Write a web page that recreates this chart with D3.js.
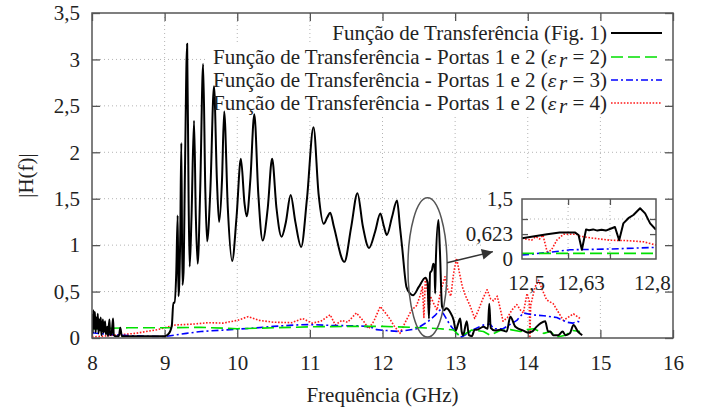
<!DOCTYPE html>
<html><head><meta charset="utf-8">
<script src="https://cdn.jsdelivr.net/npm/d3@7"></script>
<style>
html,body{margin:0;padding:0;background:#fff;}
svg{display:block;}
</style></head><body>
<svg id="c" width="706" height="412" font-family="Liberation Serif"></svg>
<script>
// ---------------- data ----------------
const xTicks=[8,9,10,11,12,13,14,15,16];
const yTicks=[0,0.5,1,1.5,2,2.5,3,3.5];
const legendLabels=["Função de Transferência (Fig. 1)","Função de Transferência - Portas 1 e 2 (","Função de Transferência - Portas 1 e 2 (","Função de Transferência - Portas 1 e 2 ("];
const legendEps=[null,2,3,4];
const seriesColors=["#000000","#00e000","#0000ff","#ff1a1a"];

const fig1=[[8.00,0.12],[8.005,0.25],[8.01,0.05],[8.02,0.30],[8.03,0.10],[8.04,0.28],[8.05,0.06],[8.06,0.22],[8.07,0.10],[8.08,0.26],[8.09,0.05],[8.10,0.20],[8.11,0.08],[8.12,0.22],[8.13,0.03],[8.15,0.20],[8.16,0.06],[8.18,0.18],[8.19,0.04],[8.21,0.12],[8.22,0.02],[8.24,0.20],[8.25,0.03],[8.27,0.05],[8.29,0.21],[8.30,0.03],[8.32,0.02],[8.37,0.02],[8.39,0.11],[8.41,0.02],[8.6,0.02],[8.9,0.02],[9.0,0.02],[9.05,0.04],[9.08,0.08],[9.10,0.14],[9.12,0.38],[9.14,0.38],[9.16,0.7],[9.18,1.32],[9.19,0.45],[9.20,0.55],[9.215,1.1],[9.23,2.10],[9.245,0.57],[9.26,0.7],[9.28,1.8],[9.31,3.17],[9.33,1.5],[9.345,0.77],[9.37,1.3],[9.405,2.34],[9.43,1.3],[9.455,0.80],[9.49,1.6],[9.53,2.95],[9.56,1.6],[9.585,1.04],[9.63,1.6],[9.68,2.71],[9.72,1.7],[9.75,1.25],[9.79,1.7],[9.82,2.44],[9.87,1.4],[9.93,0.83],[9.99,1.3],[10.05,1.93],[10.10,1.45],[10.13,1.31],[10.18,1.7],[10.235,2.41],[10.29,1.55],[10.35,1.05],[10.42,1.4],[10.48,1.93],[10.54,1.4],[10.61,1.09],[10.67,1.25],[10.735,1.54],[10.80,1.25],[10.88,0.98],[10.96,1.5],[11.05,2.27],[11.12,1.55],[11.19,1.23],[11.24,1.30],[11.28,1.35],[11.33,1.2],[11.475,0.82],[11.57,1.2],[11.655,1.56],[11.73,1.2],[11.815,0.97],[11.90,1.15],[11.97,1.34],[12.02,1.2],[12.06,1.11],[12.13,1.3],[12.20,1.48],[12.24,1.2],[12.27,0.98],[12.33,0.55],[12.38,0.48],[12.42,0.46],[12.50,0.55],[12.59,0.65],[12.62,0.6],[12.64,0.21],[12.655,0.70],[12.68,0.73],[12.70,0.80],[12.715,0.78],[12.725,0.48],[12.735,0.84],[12.77,1.27],[12.79,0.95],[12.82,0.34],[12.85,0.30],[12.88,0.32],[12.93,0.28],[12.98,0.19],[13.01,0.08],[13.04,0.15],[13.07,0.21],[13.09,0.07],[13.11,0.03],[13.16,0.18],[13.19,0.03],[13.23,0.02],[13.27,0.09],[13.30,0.09],[13.39,0.12],[13.45,0.10],[13.47,0.37],[13.49,0.11],[13.55,0.08],[13.62,0.09],[13.71,0.07],[13.76,0.23],[13.83,0.12],[13.94,0.08],[14.00,0.06],[14.06,0.07],[14.12,0.12],[14.18,0.16],[14.24,0.18],[14.28,0.07],[14.31,0.07],[14.35,0.03],[14.42,0.03],[14.48,0.07],[14.52,0.03],[14.58,0.05],[14.63,0.14],[14.69,0.07],[14.75,0.03]];

const er2=[[8.0,0.10],[8.5,0.11],[9.0,0.11],[9.5,0.115],[10.0,0.10],[10.5,0.11],[11.0,0.12],[11.5,0.125],[12.0,0.125],[12.4,0.115],[12.79,0.10],[12.98,0.086],[13.07,0.014],[13.23,0.086],[13.39,0.07],[13.48,0.03],[13.62,0.08],[13.76,0.09],[13.90,0.07],[13.99,0.09],[14.08,0.10],[14.22,0.05],[14.31,0.07],[14.40,0.01],[14.52,0.03],[14.62,0.08],[14.72,0.07]];

const er3=[[8.0,0.057],[8.2,0.04],[8.4,0.03],[8.7,0.02],[9.0,0.015],[9.3,0.05],[9.5,0.07],[9.8,0.085],[10.0,0.095],[10.2,0.105],[10.5,0.125],[10.8,0.14],[11.0,0.145],[11.3,0.135],[11.7,0.13],[11.83,0.12],[11.92,0.09],[12.06,0.08],[12.24,0.07],[12.47,0.10],[12.63,0.18],[12.72,0.24],[12.79,0.30],[12.84,0.26],[12.93,0.14],[13.02,0.05],[13.09,0.01],[13.25,0.09],[13.39,0.14],[13.48,0.15],[13.53,0.10],[13.66,0.10],[13.85,0.19],[13.94,0.27],[14.06,0.25],[14.22,0.24],[14.40,0.22],[14.54,0.17],[14.62,0.16],[14.68,0.18],[14.72,0.17]];

const er4=[[8.0,0.01],[8.3,0.03],[8.6,0.05],[8.9,0.09],[9.05,0.12],[9.15,0.14],[9.4,0.15],[9.6,0.165],[9.8,0.16],[10.0,0.19],[10.15,0.23],[10.3,0.19],[10.5,0.17],[10.75,0.165],[10.9,0.21],[11.03,0.16],[11.15,0.18],[11.28,0.25],[11.35,0.14],[11.44,0.19],[11.52,0.17],[11.64,0.27],[11.74,0.18],[11.81,0.10],[11.88,0.18],[11.97,0.34],[12.08,0.23],[12.16,0.13],[12.24,0.05],[12.32,0.18],[12.4,0.30],[12.47,0.35],[12.52,0.46],[12.55,0.55],[12.57,0.22],[12.59,0.64],[12.62,0.50],[12.64,0.28],[12.66,0.45],[12.7,0.38],[12.75,0.30],[12.8,0.50],[12.86,0.66],[12.9,0.52],[12.94,0.45],[12.98,0.7],[13.02,0.86],[13.06,0.7],[13.1,0.55],[13.14,0.46],[13.21,0.34],[13.27,0.21],[13.32,0.30],[13.38,0.42],[13.44,0.52],[13.49,0.42],[13.53,0.40],[13.58,0.45],[13.62,0.32],[13.66,0.18],[13.72,0.22],[13.78,0.30],[13.85,0.36],[13.9,0.30],[13.94,0.27],[13.99,0.48],[14.02,0.40],[14.03,0.0],[14.04,0.35],[14.1,0.55],[14.15,0.62],[14.2,0.52],[14.26,0.41],[14.35,0.37],[14.42,0.28],[14.49,0.19],[14.55,0.22],[14.63,0.26],[14.72,0.21]];

// inset (zoom of 12.5 - 12.8 GHz)
const insetXLabels=[12.5,12.63,12.8];
const insetXTicks=[12.6,12.7];
const insetYLabels=[0,0.623,1.5];
const insetYTicks=[0.623,1];
const inFig1=[[12.49,0.52],[12.52,0.57],[12.55,0.62],[12.58,0.66],[12.617,0.66],[12.625,0.6],[12.633,0.23],[12.643,0.74],[12.65,0.72],[12.66,0.74],[12.67,0.71],[12.68,0.73],[12.69,0.71],[12.70,0.75],[12.712,0.8],[12.722,0.47],[12.732,0.89],[12.744,1.02],[12.756,1.1],[12.772,1.27],[12.784,1.14],[12.796,0.89],[12.81,0.73]];
const inEr2=[[12.49,0.14],[12.6,0.14],[12.7,0.14],[12.81,0.14]];
const inEr3=[[12.49,0.10],[12.55,0.16],[12.605,0.23],[12.70,0.25],[12.81,0.29]];
const inEr4=[[12.49,0.52],[12.513,0.47],[12.523,0.56],[12.532,0.50],[12.54,0.60],[12.55,0.18],[12.56,0.22],[12.573,0.47],[12.589,0.62],[12.62,0.62],[12.628,0.57],[12.66,0.52],[12.70,0.47],[12.74,0.46],[12.78,0.43],[12.81,0.35]];

// annotation (ellipse around the zoomed zone, arrow to inset) in data units
const ellipseC=[12.62,0.76], ellipseR=[0.27,0.75];
const arrowFrom=[12.89,0.81], arrowTo=[13.52,0.93];

// ---------------- drawing ----------------
const FONT="Liberation Serif";
const M={l:92,r:673,t:13,b:338};
const x=d3.scaleLinear().domain([8,16]).range([M.l,M.r]);
const y=d3.scaleLinear().domain([0,3.5]).range([M.b,M.t]);
const fmt=d=>String(d).replace('.',',');
const svg=d3.select('#c');
const FS=21;

svg.append('defs').append('clipPath').attr('id','clipMain').append('rect')
  .attr('x',M.l).attr('y',M.t).attr('width',M.r-M.l).attr('height',M.b-M.t);

// grid
const grid=svg.append('g').attr('stroke','#b4b4b4').attr('stroke-width',1).attr('stroke-dasharray','1,3');
grid.selectAll('.gx').data(xTicks.slice(1,-1)).enter().append('line')
  .attr('x1',d=>x(d)).attr('x2',d=>x(d)).attr('y1',M.t).attr('y2',M.b);
grid.selectAll('.gy').data(yTicks.slice(1,-1)).enter().append('line')
  .attr('y1',d=>y(d)).attr('y2',d=>y(d)).attr('x1',M.l).attr('x2',M.r);

// masks behind key and inset (hide grid only)
svg.append('rect').attr('x',336).attr('y',21).attr('width',332).attr('height',24).attr('fill','#fff');
svg.append('rect').attr('x',207).attr('y',45).attr('width',461).attr('height',70).attr('fill','#fff');
svg.append('rect').attr('x',482).attr('y',178).attr('width',186).attr('height',118).attr('fill','#fff');

// axes
function styleAxis(g){
  g.attr('font-family',FONT).attr('font-size',FS);
  g.select('.domain').remove();
  g.selectAll('.tick line').attr('stroke','#555').attr('stroke-width',1.3);
  g.selectAll('.tick text').attr('fill','#222');
}
svg.append('g').attr('transform',`translate(0,${M.b})`)
  .call(d3.axisBottom(x).tickValues(xTicks).tickFormat(fmt).tickSize(-8).tickPadding(17)).call(styleAxis);
svg.append('g').attr('transform',`translate(0,${M.t})`)
  .call(d3.axisTop(x).tickValues(xTicks).tickFormat('').tickSize(-8)).call(styleAxis);
svg.append('g').attr('transform',`translate(${M.l},0)`)
  .call(d3.axisLeft(y).tickValues(yTicks).tickFormat(fmt).tickSize(-8).tickPadding(12)).call(styleAxis);
svg.append('g').attr('transform',`translate(${M.r},0)`)
  .call(d3.axisRight(y).tickValues(yTicks).tickFormat('').tickSize(-8)).call(styleAxis);

// series
const dashes=[null,'12,5','7,3,2,3','1.6,1.6'];
const widths=[2,1.6,1.6,1.6];
const line=d3.line().x(d=>x(d[0])).y(d=>y(d[1])).curve(d3.curveMonotoneX);
const lineLin=d3.line().x(d=>x(d[0])).y(d=>y(d[1]));
const dataSets=[fig1,er2,er3,er4];
const plotG=svg.append('g').attr('clip-path','url(#clipMain)');
[3,2,1,0].forEach(i=>{
  plotG.append('path').attr('d',(i===0?line:lineLin)(dataSets[i])).attr('fill','none')
    .attr('stroke',seriesColors[i]).attr('stroke-width',widths[i])
    .attr('stroke-dasharray',dashes[i]).attr('stroke-linejoin','round');
});

// ellipse + arrow
svg.append('ellipse').attr('cx',x(ellipseC[0])).attr('cy',y(ellipseC[1]))
  .attr('rx',x(ellipseC[0]+ellipseR[0])-x(ellipseC[0])).attr('ry',y(ellipseC[1])-y(ellipseC[1]+ellipseR[1]))
  .attr('fill','none').attr('stroke','#555').attr('stroke-width',1.5);
svg.select('defs').append('marker').attr('id','arr').attr('viewBox','0 0 10 10')
  .attr('refX',10).attr('refY',5).attr('markerWidth',15).attr('markerHeight',11)
  .attr('markerUnits','userSpaceOnUse').attr('orient','auto')
  .append('path').attr('d','M0,0L10,5L0,10z').attr('fill','#333');
svg.append('line').attr('x1',x(arrowFrom[0])).attr('y1',y(arrowFrom[1]))
  .attr('x2',x(arrowTo[0])).attr('y2',y(arrowTo[1]))
  .attr('stroke','#333').attr('stroke-width',1.5).attr('marker-end','url(#arr)');

// frame
svg.append('rect').attr('x',M.l).attr('y',M.t).attr('width',M.r-M.l).attr('height',M.b-M.t)
  .attr('fill','none').attr('stroke','#555').attr('stroke-width',1.5);

// axis titles
svg.append('text').attr('x',(M.l+M.r)/2).attr('y',402).attr('text-anchor','middle')
  .attr('font-family',FONT).attr('font-size',FS).attr('fill','#222').text('Frequência (GHz)');
svg.append('text').attr('transform',`translate(33,${(M.t+M.b)/2}) rotate(-90)`)
  .attr('font-family',FONT).attr('text-anchor','middle').attr('font-size',FS).attr('fill','#222').text('|H(f)|');

// legend
const legY=[33,57,80,103];
const leg=svg.append('g');
legendLabels.forEach((lab,i)=>{
  const t=leg.append('text').attr('x',607).attr('y',legY[i]).attr('dy','0.32em')
    .attr('text-anchor','end').attr('font-family',FONT).attr('font-size',FS).attr('fill','#222');
  t.append('tspan').text(lab);
  if(legendEps[i]!==null){
    t.append('tspan').attr('font-style','italic').attr('font-family','DejaVu Serif').attr('font-size',17).text('ε');
    t.append('tspan').attr('font-style','italic').attr('font-size',FS).attr('dx',2).attr('dy',3).text('r');
    t.append('tspan').attr('dy',-3).text(' = '+legendEps[i]+')');
  }
  leg.append('line').attr('x1',611).attr('x2',662).attr('y1',legY[i]).attr('y2',legY[i])
    .attr('stroke',seriesColors[i]).attr('stroke-width',widths[i]).attr('stroke-dasharray',dashes[i]);
});

// ---------------- inset ----------------
const IB={l:522,r:656,t:199,b:259};
const xi=d3.scaleLinear().domain([12.49,12.81]).range([IB.l,IB.r]);
const yi=d3.scaleLinear().domain([0,1.5]).range([IB.b,IB.t]);
svg.select('defs').append('clipPath').attr('id','clipIn').append('rect')
  .attr('x',IB.l).attr('y',IB.t).attr('width',IB.r-IB.l).attr('height',IB.b-IB.t);
const ig=svg.append('g');
ig.append('rect').attr('x',IB.l).attr('y',IB.t).attr('width',IB.r-IB.l).attr('height',IB.b-IB.t).attr('fill','#fff');
const igrid=ig.append('g').attr('stroke','#b4b4b4').attr('stroke-dasharray','1,3');
igrid.selectAll('.v').data(insetXTicks).enter().append('line')
  .attr('x1',d=>xi(d)).attr('x2',d=>xi(d)).attr('y1',IB.t).attr('y2',IB.b);
igrid.append('line').attr('x1',IB.l).attr('x2',IB.r).attr('y1',yi(1)).attr('y2',yi(1));
ig.append('g').attr('transform',`translate(0,${IB.b})`)
  .call(d3.axisBottom(xi).tickValues(insetXLabels).tickFormat(fmt).tickSize(0).tickPadding(16)).call(styleAxis);
ig.append('g').attr('transform',`translate(0,${IB.b})`)
  .call(d3.axisBottom(xi).tickValues(insetXTicks).tickFormat('').tickSize(-6)).call(styleAxis);
ig.append('g').attr('transform',`translate(0,${IB.t})`)
  .call(d3.axisTop(xi).tickValues(insetXTicks).tickFormat('').tickSize(-6)).call(styleAxis);
ig.append('g').attr('transform',`translate(${IB.l},0)`)
  .call(d3.axisLeft(yi).tickValues(insetYLabels).tickFormat(fmt).tickSize(0).tickPadding(9)).call(styleAxis);
ig.append('g').attr('transform',`translate(${IB.l},0)`)
  .call(d3.axisLeft(yi).tickValues(insetYTicks).tickFormat('').tickSize(-6)).call(styleAxis);
ig.append('g').attr('transform',`translate(${IB.r},0)`)
  .call(d3.axisRight(yi).tickValues(insetYTicks).tickFormat('').tickSize(-6)).call(styleAxis);
const iline=d3.line().x(d=>xi(d[0])).y(d=>yi(d[1]));
const inSets=[inFig1,inEr2,inEr3,inEr4];
const ip=ig.append('g').attr('clip-path','url(#clipIn)');
[3,2,1,0].forEach(i=>{
  ip.append('path').attr('d',iline(inSets[i])).attr('fill','none')
    .attr('stroke',seriesColors[i]).attr('stroke-width',widths[i])
    .attr('stroke-dasharray',dashes[i]).attr('stroke-linejoin','round');
});
ig.append('rect').attr('x',IB.l).attr('y',IB.t).attr('width',IB.r-IB.l).attr('height',IB.b-IB.t)
  .attr('fill','none').attr('stroke','#555').attr('stroke-width',1.5);
</script>
</body></html>
